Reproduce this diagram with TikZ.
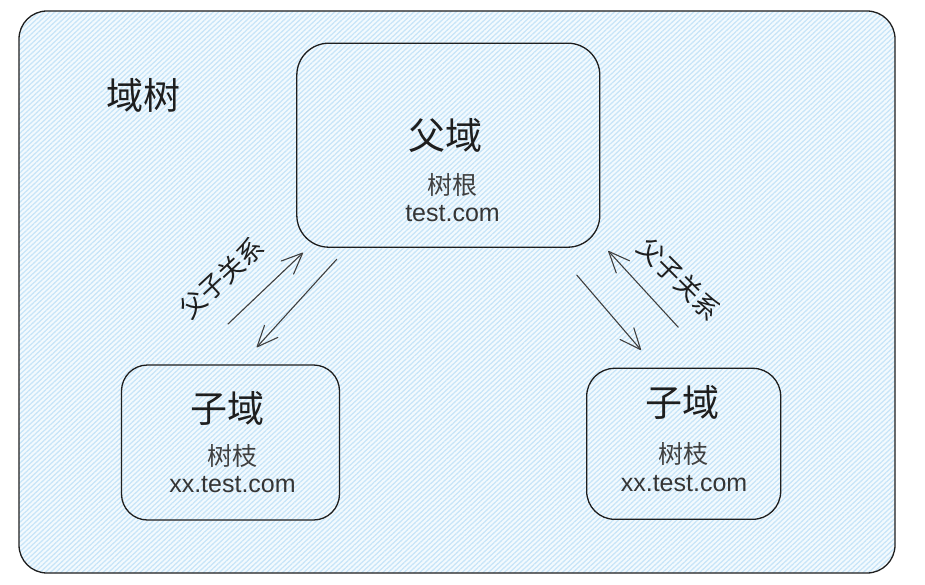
\documentclass[tikz,border=0pt]{standalone}
\usepackage{fontspec}
\setmainfont{Liberation Sans}
\newfontfamily\cjk{Noto Sans CJK SC}
\usetikzlibrary{arrows.meta,patterns.meta}
\definecolor{ink}{HTML}{1E1E1E}
\definecolor{bgfill}{HTML}{F3FAFE}
\definecolor{hatch}{HTML}{C8E5F8}
\begin{document}
\begin{tikzpicture}[x=1pt,y=-1pt,
  outerbox/.style={draw=ink, line width=1.3pt, rounded corners=28pt,
    preaction={fill=bgfill},
    pattern={Lines[angle=43,distance=3.6pt,line width=1.3pt]}, pattern color=hatch,
    inner sep=0pt},
  domainbox/.style={draw=ink, line width=1.3pt, inner sep=0pt},
  big/.style={font=\cjk\fontsize{37}{40}\selectfont, text=ink, inner sep=0pt},
  sub/.style={font=\cjk\fontsize{25}{27}\selectfont, text=ink!85, inner sep=0pt},
  url/.style={font=\fontsize{25}{28}\selectfont, text=ink!90, inner sep=0pt, anchor=base},
  rel/.style={font=\cjk\fontsize{26}{28}\selectfont, text=ink, inner sep=0pt},
  arr/.style={draw=ink!85, line width=1.1pt, line cap=round,
    -{Straight Barb[length=21pt,width=18pt,round]}}
]
\useasboundingbox (0,0) rectangle (925,585);
\node[outerbox, minimum width=876pt, minimum height=562pt] (tree) at (457,292) {};
\node[big] (treelabel) at (143,95) {域树};

\node[domainbox, rounded corners=32pt, minimum width=303pt, minimum height=204pt] (parent) at (448.3,145.2) {};
\node[big] (ptitle) at (445.5,136) {父域};
\node[sub] (psub) at (452.7,185) {树根};
\node[url] (purl) at (452.5,222) {test.com};

\node[domainbox, rounded corners=26pt, minimum width=218pt, minimum height=155pt] (left) at (230.5,442.5) {};
\node[big] (ltitle) at (227.3,408) {子域};
\node[sub] (lsub) at (232,456) {树枝};
\node[url] (lurl) at (232.5,492.5) {xx.test.com};

\node[domainbox, rounded corners=28pt, minimum width=194pt, minimum height=151pt] (right) at (683.7,443.8) {};
\node[big] (rtitle) at (682,402) {子域};
\node[sub] (rsub) at (683.5,454.5) {树枝};
\node[url] (rurl) at (684,491) {xx.test.com};

\coordinate (lupS) at (228,324);
\coordinate (lupE) at (303,252.7);
\coordinate (ldnS) at (336.7,259.3);
\coordinate (ldnE) at (256.7,347.3);
\coordinate (rdnS) at (576.7,275);
\coordinate (rdnE) at (641,350);
\coordinate (rupS) at (678.3,327.3);
\coordinate (rupE) at (608.3,251);

\draw[arr] (lupS) -- (lupE);
\draw[arr] (ldnS) -- (ldnE);
\draw[arr] (rdnS) -- (rdnE);
\draw[arr] (rupS) -- (rupE);

\node[rel, rotate=43] (lrel) at (222,278) {父子关系};
\node[rel, rotate=-45] (rrel) at (679,279) {父子关系};
\end{tikzpicture}
\end{document}
